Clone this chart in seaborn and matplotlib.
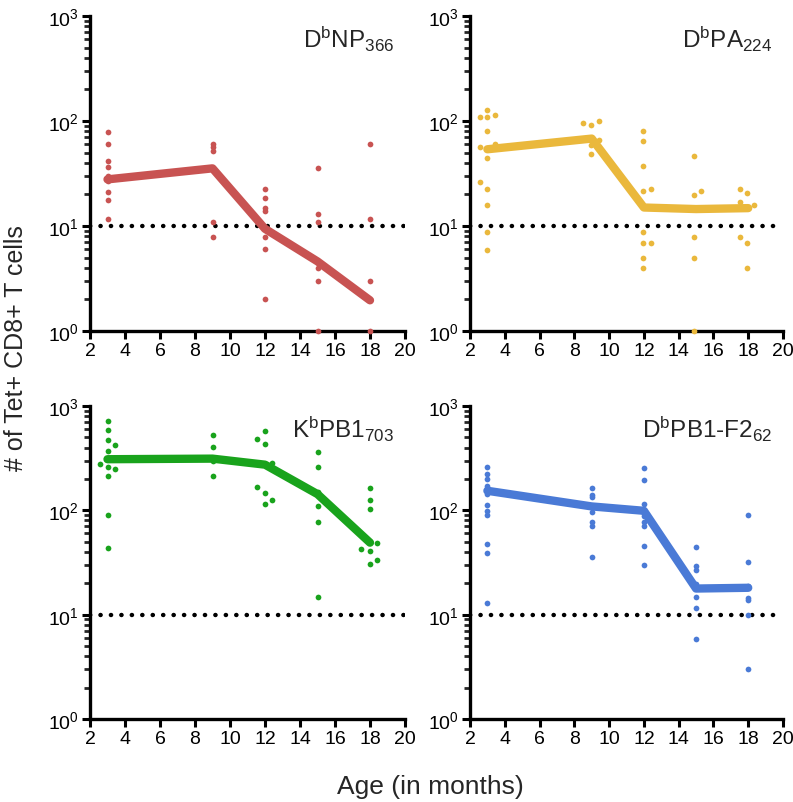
import matplotlib
matplotlib.use("Agg")
import matplotlib.pyplot as plt
import matplotlib.ticker as mticker
import numpy as np
import pandas as pd
import seaborn as sns

# ---------------- data ----------------
MEAN_AGE = [3, 9, 12, 15, 18]

NP_AGE = [3, 3, 3, 3, 3, 3, 3, 3, 3,
          9, 9, 9, 9, 9,
          12, 12, 12, 12, 12, 12, 12,
          15, 15, 15, 15, 15, 15,
          18, 18, 18, 18]
NP_VAL = [79, 60, 42, 36.5, 30, 27, 21, 17.7, 11.7,
          60, 57, 52, 10.9, 7.9,
          22.5, 18.6, 15, 13.9, 7.9, 6, 2.0,
          35.4, 12.9, 10.9, 4, 3, 1,
          61, 11.7, 3, 1]
NP_MEAN = [27.8, 35.4, 9.4, 4.6, 1.96]

PA_AGE = [2.6, 2.6, 2.6, 3, 3, 3, 3, 3, 3, 3, 3, 3.45, 3.45,
          8.5, 8.95, 8.95, 8.95, 9.4, 9.4,
          11.95, 11.95, 11.95, 11.95, 11.95, 11.95, 11.95, 11.95, 12.4, 12.4,
          14.9, 14.9, 14.9, 14.9, 14.9, 15.3,
          17.55, 17.55, 17.55, 17.95, 17.95, 17.95, 18.35]
PA_VAL = [108, 56, 26.5, 127, 108, 81, 44, 22.7, 15.9, 8.8, 5.9, 115, 61,
          96, 91, 59, 48, 100, 66,
          81, 64.5, 37, 21.5, 8.8, 6.9, 5, 4, 22.7, 6.9,
          46.4, 19.7, 7.9, 5, 1, 21.5,
          22.7, 16.9, 7.9, 20.7, 6.9, 4, 15.7]
PA_MEAN = [53.8, 68, 15, 14.5, 14.8]

PB1_AGE = [2.55, 3, 3, 3, 3, 3, 3, 3, 3, 3.4, 3.4,
           9, 9, 9, 9,
           11.55, 11.55, 12, 12, 12, 12, 12.4, 12.4,
           15, 15, 15, 15, 15, 15,
           17.5, 18, 18, 18, 18, 18, 18.4, 18.4]
PB1_VAL = [277, 719, 590, 476, 374, 263, 214, 90.5, 43.7, 424, 251,
           532, 405, 298, 211,
           480, 168, 581, 433, 146, 116, 285, 127,
           360, 259, 150, 110, 77.6, 14.8,
           42.4, 163, 125, 102, 41.2, 30.7, 48.4, 33.6]
PB1_MEAN = [309, 313, 274, 143, 49]

F2_AGE = [3] * 12 + [9] * 8 + [12] * 8 + [15] * 7 + [18] * 7
F2_VAL = [261, 225, 199, 171, 160, 143, 113, 99, 90.5, 48, 39, 12.8,
          165, 141, 134, 109, 97, 77.6, 71, 35.8,
          257, 196, 114, 88.5, 77.6, 71, 45.7, 29.8,
          44.7, 29, 26.7, 19.6, 14.8, 11.7, 5.9,
          90, 32, 18.9, 14.6, 13.8, 9.9, 3.0]
F2_MEAN = [154, 109, 99, 17.8, 18.1]

TITLES = [r"D$^{\mathrm{b}}$NP$_{366}$", r"D$^{\mathrm{b}}$PA$_{224}$",
          r"K$^{\mathrm{b}}$PB1$_{703}$", r"D$^{\mathrm{b}}$PB1-F2$_{62}$"]
COLORS = ["#C85352", "#EAB83C", "#19A31C", "#4A7AD6"]
THRESHOLD = 10
X_TICKS = [2, 4, 6, 8, 10, 12, 14, 16, 18, 20]

# ---------------- style ----------------
sns.set_style("ticks")
plt.rcParams["font.family"] = ["Liberation Sans", "DejaVu Sans"]
plt.rcParams["mathtext.fontset"] = "custom"
plt.rcParams["mathtext.rm"] = "Liberation Sans"
plt.rcParams["mathtext.it"] = "Liberation Sans:italic"
plt.rcParams["mathtext.bf"] = "Liberation Sans:bold"

fig = plt.figure(figsize=(7.93, 8.03), dpi=100)
W, H = 793, 803
boxes = [(90, 17, 405, 332), (470, 17, 783, 332),
         (90, 407, 405, 720), (470, 407, 783, 720)]

panels = [(NP_AGE, NP_VAL, NP_MEAN), (PA_AGE, PA_VAL, PA_MEAN),
          (PB1_AGE, PB1_VAL, PB1_MEAN), (F2_AGE, F2_VAL, F2_MEAN)]

for i, ((ages, vals, means), box) in enumerate(zip(panels, boxes)):
    x0, y0, x1, y1 = box
    ax = fig.add_axes([x0 / W, 1 - y1 / H, (x1 - x0) / W, (y1 - y0) / H])
    ax.set_yscale("log")
    ax.set_xlim(2, 20)
    ax.set_ylim(1, 1000)

    # threshold dotted line
    ax.axhline(THRESHOLD, color="black", lw=3.2, linestyle=(0, (0.05, 2.3)),
               dash_capstyle="round", zorder=1)

    pts = pd.DataFrame({"age": ages, "val": vals})
    sns.scatterplot(data=pts, x="age", y="val", color=COLORS[i], s=17,
                    linewidth=0, ax=ax, zorder=3, clip_on=False)

    mdf = pd.DataFrame({"age": MEAN_AGE, "val": means})
    sns.lineplot(data=mdf, x="age", y="val", color=COLORS[i], lw=6,
                 ax=ax, zorder=4, solid_capstyle="round",
                 solid_joinstyle="round")

    ax.set_xlabel("")
    ax.set_ylabel("")
    ax.set_xticks(X_TICKS)
    ax.set_xticklabels([str(t) for t in X_TICKS])
    ax.yaxis.set_major_locator(mticker.LogLocator(base=10, numticks=10))
    ax.yaxis.set_minor_locator(mticker.LogLocator(base=10, subs=np.arange(2, 10), numticks=20))
    ax.yaxis.set_minor_formatter(mticker.NullFormatter())
    ax.tick_params(axis="both", which="major", direction="out", length=6,
                   width=2.2, labelsize=14, colors="black", pad=2)
    ax.tick_params(axis="y", which="minor", direction="out", length=4,
                   width=2.0)
    for s in ["top", "right"]:
        ax.spines[s].set_visible(False)
    for s in ["left", "bottom"]:
        ax.spines[s].set_linewidth(2.4)
        ax.spines[s].set_color("black")

    ax.text(0.965, 0.975, TITLES[i], transform=ax.transAxes, ha="right",
            va="top", fontsize=17.5)

fig.text(16 / W, 1 - 348 / H, "# of Tet+ CD8+ T cells", rotation=90,
         ha="center", va="center", fontsize=18)
fig.text(430 / W, 1 - 787 / H, "Age (in months)", ha="center", va="center",
         fontsize=19)

fig.savefig("out.png", dpi=100)
